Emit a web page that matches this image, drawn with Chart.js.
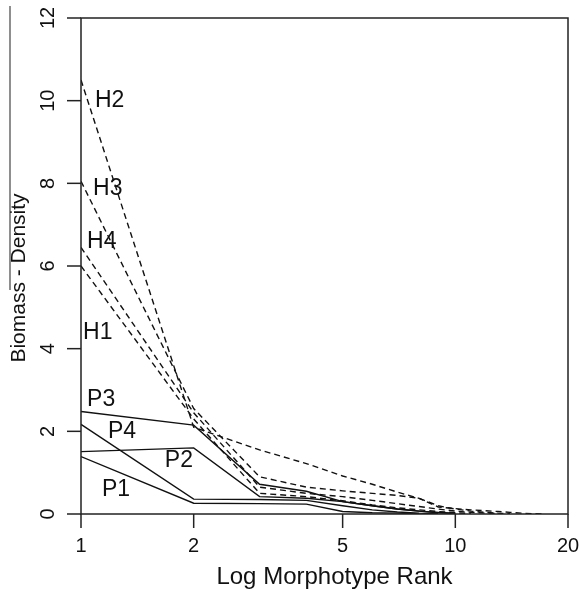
<!DOCTYPE html>
<html>
<head>
<meta charset="utf-8">
<script src="https://cdn.jsdelivr.net/npm/chart.js@4/dist/chart.umd.min.js"></script>
<style>
  body { margin: 0; background: #fff; }
  #wrap { width: 580px; height: 589px; }
</style>
</head>
<body>
<div id="wrap"><canvas id="chart"></canvas></div>
<script>
// rank-abundance values, index 0 = rank 1
const h1 = [6.0, 2.3, 0.5, 0.42, 0.32, 0.22, 0.15, 0.1, 0.06, 0.03, 0.01];
const h2 = [10.5, 2.1, 1.55, 1.22, 0.92, 0.72, 0.53, 0.38, 0.17, 0.13, 0.1, 0.08, 0.06, 0.04, 0.02, 0.01, 0];
const h3 = [8.05, 2.55, 0.9, 0.65, 0.56, 0.5, 0.45, 0.38, 0.2, 0.12, 0.07, 0.04, 0.02, 0.01];
const h4 = [6.45, 2.45, 0.65, 0.5, 0.42, 0.33, 0.25, 0.18, 0.12, 0.07, 0.04, 0.02, 0.01];
const p1 = [1.39, 0.26, 0.25, 0.24, 0.06, 0.03, 0.02, 0.01];
const p2 = [1.51, 1.6, 0.42, 0.38, 0.3, 0.2, 0.12, 0.07, 0.03, 0.01];
const p3 = [2.48, 2.15, 0.72, 0.55, 0.3, 0.2, 0.12, 0.07, 0.04, 0.02];
const p4 = [2.17, 0.36, 0.35, 0.33, 0.2, 0.1, 0.05, 0.02, 0.01];

const xTicks = [1, 2, 5, 10, 20];
const yTicks = [0, 2, 4, 6, 8, 10, 12];

// series labels, placed in data coordinates
const labelNames = ["H2", "H3", "H4", "H1", "P3", "P4", "P2", "P1"];
const labelX = [1.09, 1.077, 1.038, 1.013, 1.038, 1.18, 1.675, 1.138];
const labelY = [9.99, 7.86, 6.6, 4.38, 2.76, 2.0, 1.28, 0.58];

function toPoints(vals) {
  return vals.map((v, i) => ({ x: i + 1, y: v }));
}

function makeSet(label, vals, dashed) {
  return {
    label: label,
    data: toPoints(vals),
    borderColor: "#111",
    borderWidth: 1.4,
    borderDash: dashed ? [6, 4] : [],
    pointRadius: 0,
    tension: 0,
    fill: false,
  };
}

const axesPlugin = {
  id: "rAxes",
  afterDraw(chart) {
    const ctx = chart.ctx;
    const xs = chart.scales.x;
    const ys = chart.scales.y;
    const a = chart.chartArea;
    ctx.save();
    ctx.strokeStyle = "#222";
    ctx.lineWidth = 1.5;
    ctx.fillStyle = "#111";

    // box
    ctx.strokeRect(a.left, a.top, a.right - a.left, a.bottom - a.top);

    // y ticks + rotated labels
    ctx.font = "20px 'Liberation Sans', Arial, sans-serif";
    ctx.textAlign = "center";
    ctx.textBaseline = "middle";
    yTicks.forEach((t) => {
      const py = ys.getPixelForValue(t);
      ctx.beginPath();
      ctx.moveTo(a.left - 14, py);
      ctx.lineTo(a.left, py);
      ctx.stroke();
      ctx.save();
      ctx.translate(48, py);
      ctx.rotate(-Math.PI / 2);
      ctx.fillText(String(t), 0, 0);
      ctx.restore();
    });

    // x ticks + labels
    xTicks.forEach((t) => {
      const px = xs.getPixelForValue(t);
      ctx.beginPath();
      ctx.moveTo(px, a.bottom);
      ctx.lineTo(px, a.bottom + 14);
      ctx.stroke();
      ctx.fillText(String(t), px, 546);
    });

    // axis titles
    ctx.font = "24px 'Liberation Sans', Arial, sans-serif";
    ctx.fillText("Log Morphotype Rank", (a.left + a.right) / 2 + 10, 577);
    ctx.font = "21px 'Liberation Sans', Arial, sans-serif";
    ctx.save();
    ctx.translate(19, 278);
    ctx.rotate(-Math.PI / 2);
    ctx.fillText("Biomass - Density", 0, 0);
    ctx.restore();

    // series labels
    ctx.font = "23px 'Liberation Sans', Arial, sans-serif";
    ctx.textAlign = "left";
    labelNames.forEach((name, i) => {
      ctx.fillText(name, xs.getPixelForValue(labelX[i]), ys.getPixelForValue(labelY[i]));
    });

    // stray frame edge at far left of the original crop
    ctx.lineWidth = 1.2;
    ctx.strokeStyle = "#444";
    ctx.beginPath();
    ctx.moveTo(10, 6);
    ctx.lineTo(10, 290);
    ctx.stroke();
    ctx.restore();
  },
};

new Chart(document.getElementById("chart"), {
  type: "line",
  data: {
    datasets: [
      makeSet("H1", h1, true),
      makeSet("H2", h2, true),
      makeSet("H3", h3, true),
      makeSet("H4", h4, true),
      makeSet("P1", p1, false),
      makeSet("P2", p2, false),
      makeSet("P3", p3, false),
      makeSet("P4", p4, false),
    ],
  },
  options: {
    responsive: true,
    maintainAspectRatio: false,
    animation: false,
    layout: { padding: { left: 81, top: 18, right: 12, bottom: 75 } },
    scales: {
      x: { type: "logarithmic", min: 1, max: 20, display: false },
      y: { type: "linear", min: 0, max: 12, display: false },
    },
    plugins: {
      legend: { display: false },
      tooltip: { enabled: false },
    },
  },
  plugins: [axesPlugin],
});
</script>
</body>
</html>
